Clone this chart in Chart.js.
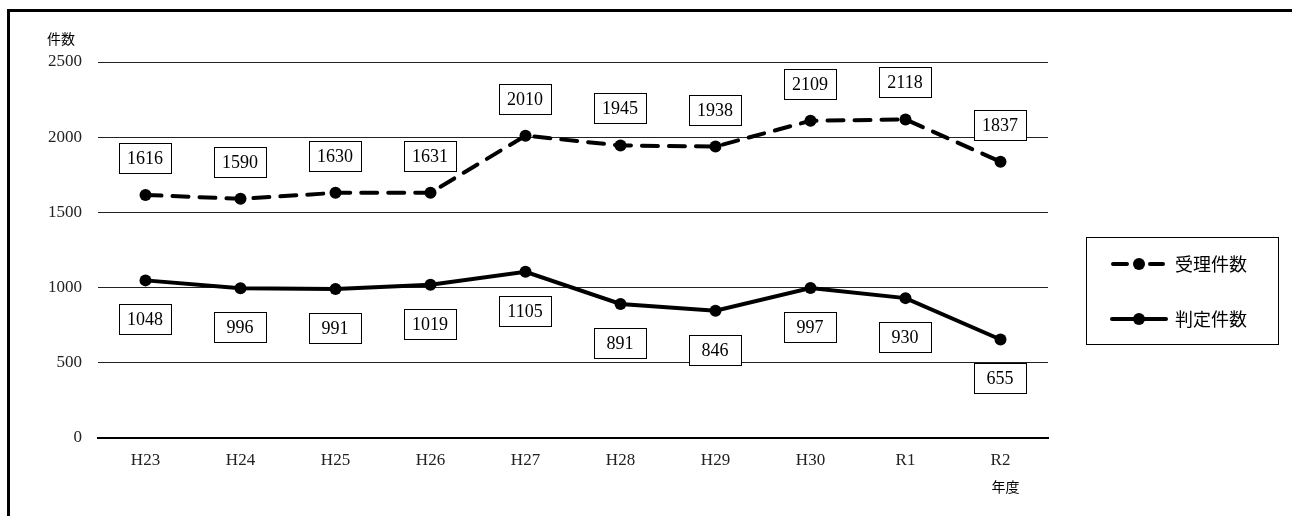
<!DOCTYPE html>
<html lang="ja">
<head>
<meta charset="utf-8">
<title>受理件数・判定件数の推移</title>
<script src="https://cdn.jsdelivr.net/npm/chart.js@4"></script>
<style>
  html, body { margin: 0; padding: 0; background: #fff; }
  #wrap { position: relative; width: 1292px; height: 516px; overflow: hidden; }
  #frame { position: absolute; left: 7px; top: 9px; width: 1320px; height: 540px;
           border-top: 3px solid #000; border-left: 3px solid #000; }
  canvas { position: absolute; left: 0; top: 0; }
</style>
</head>
<body>
<div id="wrap">
  <div id="frame"></div>
  <canvas id="chart" width="1292" height="516"></canvas>
</div>
<script>
// 年度
const years = ['H23', 'H24', 'H25', 'H26', 'H27', 'H28', 'H29', 'H30', 'R1', 'R2'];
// 受理件数
const juriCounts = [1616, 1590, 1630, 1631, 2010, 1945, 1938, 2109, 2118, 1837];
// 判定件数
const hanteiCounts = [1048, 996, 991, 1019, 1105, 891, 846, 997, 930, 655];
const yMin = 0, yMax = 2500, yStep = 500;

const serif = '"Liberation Serif", "DejaVu Serif", serif';
const gothic = '"Noto Sans CJK JP", "Noto Sans", sans-serif';

// 値ラベル（白抜きの枠付き）
const boxLabels = {
    id: 'boxLabels',
    afterDatasetsDraw(chart) {
        const ctx = chart.ctx;
        ctx.save();
        ctx.font = '18px ' + serif;
        ctx.textAlign = 'center';
        ctx.textBaseline = 'middle';
        chart.data.datasets.forEach((ds, i) => {
            const meta = chart.getDatasetMeta(i);
            meta.data.forEach((pt, j) => {
                const w = 52, h = 30;
                const top = ds.labelAbove ? Math.round(pt.y - 22 - h) : Math.round(pt.y + 24);
                const left = Math.round(pt.x - w / 2 - 1);
                ctx.fillStyle = '#fff';
                ctx.fillRect(left, top, w, h);
                ctx.strokeStyle = '#000';
                ctx.lineWidth = 1;
                ctx.strokeRect(left + 0.5, top + 0.5, w, h);
                ctx.fillStyle = '#000';
                ctx.fillText(String(ds.data[j]), left + w / 2, top + h / 2 + 1);
            });
        });
        ctx.restore();
    }
};

// 軸の単位と凡例
const extras = {
    id: 'extras',
    afterDraw(chart) {
        const ctx = chart.ctx;
        const xs = chart.scales.x;
        ctx.save();
        ctx.fillStyle = '#000';
        ctx.font = '14px ' + gothic;
        ctx.textAlign = 'center';
        ctx.textBaseline = 'middle';
        ctx.fillText('件数', 61, 39);
        ctx.fillText('年度', xs.getPixelForValue(years.length - 1) + 5, 487);

        // 凡例
        const lx = 1086, ly = 237, lw = 192, lh = 107;
        ctx.strokeStyle = '#000';
        ctx.lineWidth = 1;
        ctx.strokeRect(lx + 0.5, ly + 0.5, lw, lh);
        ctx.font = '18px ' + gothic;
        ctx.textAlign = 'left';
        chart.data.datasets.forEach((ds, i) => {
            const y = i === 0 ? 264 : 319;
            ctx.lineWidth = 4;
            ctx.lineCap = 'round';
            ctx.beginPath();
            if (ds.borderDash && ds.borderDash.length) {
                ctx.moveTo(1113, y); ctx.lineTo(1127, y);
                ctx.moveTo(1150, y); ctx.lineTo(1163, y);
            } else {
                ctx.moveTo(1112, y); ctx.lineTo(1166, y);
            }
            ctx.stroke();
            ctx.beginPath();
            ctx.arc(1139, y, 6, 0, Math.PI * 2);
            ctx.fill();
            ctx.fillText(ds.label, 1175, y);
        });
        ctx.restore();
    }
};

const ctx = document.getElementById('chart').getContext('2d');
const chart = new Chart(ctx, {
    type: 'line',
    data: {
        labels: years,
        datasets: [{
            label: '受理件数',
            data: juriCounts,
            borderColor: '#000',
            backgroundColor: '#000',
            borderWidth: 4,
            borderDash: [16, 11],
            borderCapStyle: 'round',
            pointRadius: 6,
            pointBackgroundColor: '#000',
            pointBorderWidth: 0,
            tension: 0,
            labelAbove: true
        }, {
            label: '判定件数',
            data: hanteiCounts,
            borderColor: '#000',
            backgroundColor: '#000',
            borderWidth: 4,
            borderCapStyle: 'round',
            pointRadius: 6,
            pointBackgroundColor: '#000',
            pointBorderWidth: 0,
            tension: 0,
            labelAbove: false
        }]
    },
    options: {
        responsive: false,
        animation: false,
        devicePixelRatio: 1,
        layout: {
            padding: { left: 8, right: 244, top: 62, bottom: 0 }
        },
        scales: {
            x: {
                offset: true,
                grid: { display: false, drawTicks: false },
                border: { display: true, color: '#000', width: 2 },
                ticks: {
                    color: '#222',
                    padding: 12,
                    maxRotation: 0,
                    font: { family: serif, size: 17 }
                },
                afterFit: s => { s.height = 78; }
            },
            y: {
                min: yMin,
                max: yMax,
                grid: { color: '#222', lineWidth: 1, drawTicks: false },
                border: { display: false },
                ticks: {
                    stepSize: yStep,
                    color: '#222',
                    padding: 16,
                    font: { family: serif, size: 17 },
                    callback: v => String(v)
                },
                afterFit: s => { s.width = 90; }
            }
        },
        plugins: {
            legend: { display: false },
            tooltip: { enabled: false }
        }
    },
    plugins: [boxLabels, extras]
});
</script>
</body>
</html>
